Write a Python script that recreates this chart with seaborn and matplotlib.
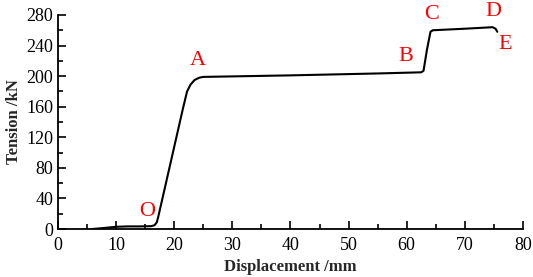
import matplotlib
matplotlib.use("Agg")
import matplotlib.pyplot as plt
import seaborn as sns
import pandas as pd
from matplotlib.ticker import MultipleLocator

displacement = [5.8, 8.0, 10.0, 12.0, 14.0, 16.0, 16.6, 17.0, 17.3, 18.5, 20.0, 21.5, 22.2, 22.8, 23.5, 24.3, 25.0,
                40.0, 55.0, 62.5, 62.9, 63.5, 64.1, 64.5, 70.0, 74.8, 75.3, 75.6]
tension = [0.0, 1.5, 3.0, 3.5, 3.5, 3.8, 5.0, 9.0, 18.0, 58.0, 108.0, 158.0, 180.0, 189.0, 195.0, 198.0, 199.0,
           201.0, 203.5, 205.0, 207.0, 235.0, 258.0, 260.0, 262.0, 264.0, 262.0, 258.0]
point_labels = ["O", "A", "B", "C", "D", "E"]
label_x = [15.3, 24.1, 59.9, 64.2, 74.9, 76.9]
label_y = [23.0, 221.0, 226.0, 281.0, 284.0, 242.0]

df = pd.DataFrame({"Displacement": displacement, "Tension": tension})

sns.set_style("ticks")
plt.rcParams["font.family"] = ["Liberation Serif", "DejaVu Serif"]

fig = plt.figure(figsize=(5.33, 2.77), dpi=100)
ax = fig.add_axes([0.109, 0.173, 0.872, 0.773])
sns.lineplot(data=df, x="Displacement", y="Tension", color="black", linewidth=1.5, ax=ax, sort=False)

ax.set_xlim(0, 80)
ax.set_ylim(0, 280)
ax.xaxis.set_major_locator(MultipleLocator(10))
ax.xaxis.set_minor_locator(MultipleLocator(5))
ax.yaxis.set_major_locator(MultipleLocator(40))
ax.yaxis.set_minor_locator(MultipleLocator(20))
ax.tick_params(which="both", direction="in", width=1.2, colors="black", labelsize=13)
ax.tick_params(which="major", length=6)
ax.tick_params(which="minor", length=3.5)
ax.tick_params(axis="x", which="major", pad=6)
for s in ["top", "right"]:
    ax.spines[s].set_visible(False)
for s in ["left", "bottom"]:
    ax.spines[s].set_linewidth(1.3)
    ax.spines[s].set_color("black")

ax.set_xlabel("Displacement /mm", fontsize=12, fontweight="bold", labelpad=3)
ax.set_ylabel("Tension /kN", fontsize=12, fontweight="bold", labelpad=3)

for t, lx, ly in zip(point_labels, label_x, label_y):
    ax.text(lx, ly, t, color="red", fontsize=16, ha="center", va="center", clip_on=False)

fig.savefig("out.png", dpi=100)
